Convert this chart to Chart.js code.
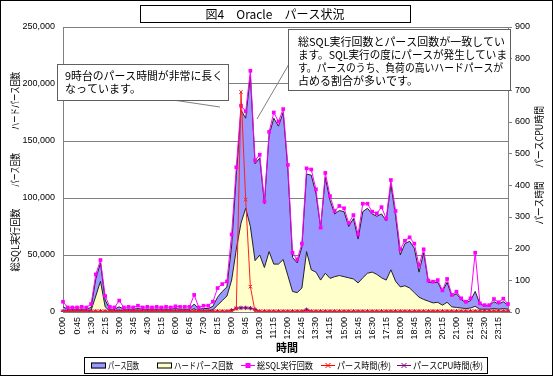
<!DOCTYPE html>
<html lang="ja">
<head>
<meta charset="utf-8">
<title>図4 Oracle パース状況</title>
<script src="https://cdn.jsdelivr.net/npm/chart.js@4.4.1/dist/chart.umd.min.js"></script>
<style>
  html, body { margin: 0; padding: 0; background: #fff; }
  #wrap { width: 553px; height: 376px; }
</style>
</head>
<body>
<div id="wrap"><canvas id="parseChart" width="553" height="376"></canvas></div>
<script>
// 15分刻みの時刻
const timeLabels = [
  '0:00','0:15','0:30','0:45','1:00','1:15','1:30','1:45','2:00','2:15','2:30','2:45',
  '3:00','3:15','3:30','3:45','4:00','4:15','4:30','4:45','5:00','5:15','5:30','5:45',
  '6:00','6:15','6:30','6:45','7:00','7:15','7:30','7:45','8:00','8:15','8:30','8:45',
  '9:00','9:15','9:30','9:45','10:00','10:15','10:30','10:45','11:00','11:15','11:30','11:45',
  '12:00','12:15','12:30','12:45','13:00','13:15','13:30','13:45','14:00','14:15','14:30','14:45',
  '15:00','15:15','15:30','15:45','16:00','16:15','16:30','16:45','17:00','17:15','17:30','17:45',
  '18:00','18:15','18:30','18:45','19:00','19:15','19:30','19:45','20:00','20:15','20:30','20:45',
  '21:00','21:15','21:30','21:45','22:00','22:15','22:30','22:45','23:00','23:15','23:30','23:45'
];

// 総SQL実行回数
const sqlExecCount = [
  9000, 4000, 4000, 4000, 4500, 4000, 7000, 33000, 45600, 14000, 4500, 4000,
  10000, 4000, 4500, 4000, 5500, 4000, 4500, 4000, 4500, 4000, 4500, 4000,
  5000, 4500, 4500, 4500, 15000, 4000, 5500, 5500, 9000, 21000, 24500, 26800,
  68000, 127000, 181000, 176000, 211600, 133000, 138000, 97000, 158000, 175000, 167000, 178000,
  129000, 52000, 46000, 60000, 126000, 125000, 107600, 74000, 122000, 101700, 88600, 93000,
  91000, 78000, 85000, 68000, 95000, 95000, 88000, 86500, 92000, 82000, 115800, 88600,
  55000, 62500, 65500, 60000, 41000, 55000, 27500, 26600, 28000, 19000, 29000, 15000,
  17800, 12000, 9000, 12000, 52000, 7600, 6000, 6000, 11400, 8500, 11700, 7000
];

// パース回数
const parseCount = [
  4500, 2500, 2500, 2500, 2500, 2500, 4000, 29000, 43000, 10500, 2500, 2500,
  4500, 2500, 2500, 2500, 3000, 2500, 2500, 2500, 2500, 2500, 2500, 2500,
  3000, 2500, 2500, 2500, 7000, 2500, 3000, 3000, 5000, 13000, 18000, 22000,
  58000, 120000, 177000, 170000, 207000, 130000, 135000, 95000, 155000, 170000, 163000, 175000,
  125000, 48000, 43000, 57000, 121000, 120000, 104000, 74000, 118000, 98000, 86000, 89000,
  88000, 75000, 82000, 64000, 88000, 91000, 86000, 84000, 86000, 80000, 112000, 84000,
  50000, 60000, 62000, 56000, 35000, 52000, 26000, 26000, 26000, 18000, 26000, 14000,
  16000, 11000, 8000, 10000, 18000, 7000, 5500, 5500, 9000, 7000, 9000, 6000
];

// ハードパース回数
const hardParseCount = [
  1000, 800, 800, 800, 800, 800, 1500, 14000, 27000, 4500, 800, 800,
  1500, 800, 800, 800, 800, 800, 800, 800, 800, 800, 800, 800,
  800, 800, 800, 800, 3000, 800, 800, 800, 2000, 6000, 10000, 14000,
  28000, 55000, 78000, 91000, 75000, 45000, 50000, 39000, 53000, 42000, 42000, 46000,
  32000, 18000, 17000, 21000, 53000, 37000, 35000, 28000, 34000, 29500, 31000, 32000,
  31000, 30000, 29000, 25500, 30000, 34000, 35000, 33000, 30000, 28000, 37000, 27000,
  22000, 23000, 21000, 17000, 13000, 11000, 9500, 8000, 8500, 6000, 8500, 4500,
  4000, 3500, 3000, 3500, 5000, 2500, 2500, 2500, 3000, 2500, 3000, 2500
];

// パース時間(秒)
const parseTimeSec = [
  2, 2, 2, 2, 2, 2, 2, 2, 2, 2, 2, 2,
  2, 2, 2, 2, 2, 2, 2, 2, 2, 2, 2, 2,
  2, 2, 2, 2, 2, 2, 2, 2, 2, 2, 2, 2,
  2, 10, 695, 355, 80, 2, 2, 2, 2, 2, 2, 2,
  2, 2, 2, 2, 2, 2, 2, 2, 2, 2, 2, 2,
  2, 2, 2, 2, 2, 2, 2, 2, 2, 2, 2, 2,
  2, 2, 2, 2, 2, 2, 2, 2, 2, 2, 2, 2,
  2, 2, 2, 2, 2, 2, 2, 2, 2, 2, 2, 2
];

// パースCPU時間(秒)
const parseCpuSec = [
  2, 2, 2, 2, 2, 2, 2, 2, 2, 2, 2, 2,
  2, 2, 2, 2, 2, 2, 2, 2, 2, 2, 2, 2,
  2, 2, 2, 2, 2, 2, 2, 2, 2, 2, 2, 2,
  5, 12, 13, 13, 12, 8, 2, 2, 2, 2, 2, 2,
  2, 2, 2, 2, 7, 2, 2, 2, 2, 2, 2, 2,
  2, 2, 2, 2, 2, 2, 2, 2, 2, 2, 2, 2,
  2, 2, 2, 2, 2, 2, 2, 2, 2, 2, 2, 2,
  2, 2, 2, 2, 2, 2, 2, 2, 2, 2, 2, 2
];

const countTicks = [0, 50000, 100000, 150000, 200000, 250000];
const secondTicks = [0, 100, 200, 300, 400, 500, 600, 700, 800, 900];

const JP = "'Noto Sans CJK JP', sans-serif";
const LATIN = "'Liberation Sans', Arial, sans-serif";

function rotatedText(ctx, text, x, y, maxW) {
  ctx.save();
  ctx.translate(x, y);
  ctx.rotate(-Math.PI / 2);
  ctx.textAlign = 'center';
  ctx.textBaseline = 'middle';
  ctx.fillText(text, 0, 0, maxW);
  ctx.restore();
}

function box(ctx, x, y, w, h, stroke) {
  ctx.fillStyle = '#fff';
  ctx.fillRect(x, y, w, h);
  ctx.strokeStyle = stroke;
  ctx.lineWidth = 1;
  ctx.strokeRect(x + 0.5, y + 0.5, w, h);
}

function line(ctx, x1, y1, x2, y2, color) {
  ctx.strokeStyle = color;
  ctx.lineWidth = 1;
  ctx.beginPath();
  ctx.moveTo(x1, y1);
  ctx.lineTo(x2, y2);
  ctx.stroke();
}

function cross(ctx, x, y, r, color) {
  line(ctx, x - r, y - r, x + r, y + r, color);
  line(ctx, x - r, y + r, x + r, y - r, color);
}

// タイトル・軸タイトル・凡例・吹き出し
const decorations = {
  id: 'decorations',
  beforeDraw(chart) {
    const ctx = chart.ctx;
    ctx.save();
    ctx.fillStyle = '#fff';
    ctx.fillRect(0, 0, chart.width, chart.height);
    ctx.restore();
  },
  afterDraw(chart) {
    const ctx = chart.ctx;
    ctx.save();

    // chart frame
    ctx.strokeStyle = '#000';
    ctx.lineWidth = 1;
    ctx.strokeRect(0.5, 0.5, chart.width - 1, chart.height - 1);

    // title
    box(ctx, 140, 5, 270, 17, '#000');
    ctx.fillStyle = '#000';
    ctx.font = '12px ' + JP;
    ctx.textAlign = 'center';
    ctx.textBaseline = 'middle';
    ctx.fillText('図4　Oracle　パース状況', 275, 14);

    // axis titles
    ctx.font = '10px ' + JP;
    rotatedText(ctx, 'ハードパース回数', 15, 101, 58);
    rotatedText(ctx, 'パース回数', 15, 170, 34);
    rotatedText(ctx, '総SQL実行回数', 15, 240, 63);
    rotatedText(ctx, 'パースCPU時間', 539, 137, 62);
    rotatedText(ctx, 'パース時間', 539, 203, 43);

    ctx.font = 'bold 11px ' + JP;
    ctx.textAlign = 'center';
    ctx.fillText('時間', 287, 348);

    // legend
    box(ctx, 84, 357, 403, 16, '#000');
    const ly = 365.5;
    ctx.font = '9px ' + JP;
    ctx.textAlign = 'left';
    ctx.textBaseline = 'middle';
    ctx.fillStyle = '#9999ff';
    ctx.fillRect(91, ly - 3, 15, 6);
    ctx.strokeStyle = '#000';
    ctx.strokeRect(91.5, ly - 2.5, 14, 5);
    ctx.fillStyle = '#ffffcc';
    ctx.fillRect(157, ly - 3, 15, 6);
    ctx.strokeRect(157.5, ly - 2.5, 14, 5);
    line(ctx, 241, ly, 255, ly, '#ff00ff');
    ctx.fillStyle = '#ff00ff';
    ctx.fillRect(245.5, ly - 2.5, 5, 5);
    line(ctx, 321, ly, 335, ly, '#ff0000');
    cross(ctx, 328, ly, 2.5, '#ff0000');
    line(ctx, 397, ly, 411, ly, '#800080');
    cross(ctx, 404, ly, 2.5, '#800080');
    ctx.fillStyle = '#000';
    ctx.fillText('パース回数', 108, ly, 31);
    ctx.fillText('ハードパース回数', 174, ly, 59);
    ctx.fillText('総SQL実行回数', 257, ly, 56);
    ctx.fillText('パース時間(秒)', 337, ly, 54);
    ctx.fillText('パースCPU時間(秒)', 413, ly, 70);

    // callout 1
    line(ctx, 173, 100, 220, 107, '#808080');
    box(ctx, 57, 64, 171, 36, '#606060');
    ctx.fillStyle = '#000';
    ctx.font = '11px ' + JP;
    ctx.textAlign = 'left';
    ctx.fillText('9時台のパース時間が非常に長く', 65, 76, 158);
    ctx.fillText('なっています。', 65, 89);

    // callout 2
    line(ctx, 289, 64, 257, 119, '#808080');
    box(ctx, 288, 29, 222, 61, '#606060');
    ctx.fillStyle = '#000';
    ctx.fillText('総SQL実行回数とパース回数が一致してい', 298, 42, 207);
    ctx.fillText('ます。SQL実行の度にパースが発生していま', 298, 55, 209);
    ctx.fillText('す。パースのうち、負荷の高いハードパースが', 298, 68, 205);
    ctx.fillText('占める割合が多いです。', 298, 81);

    ctx.restore();
  }
};

Chart.defaults.font.family = LATIN;
Chart.defaults.color = '#000';

const ctx = document.getElementById('parseChart').getContext('2d');
new Chart(ctx, {
  type: 'line',
  data: {
    labels: timeLabels,
    datasets: [
      {
        label: 'パース回数',
        data: parseCount,
        yAxisID: 'y',
        backgroundColor: '#9999ff',
        borderColor: '#222',
        borderWidth: 1,
        fill: 'origin',
        pointRadius: 0,
        order: 5
      },
      {
        label: 'ハードパース回数',
        data: hardParseCount,
        yAxisID: 'y',
        backgroundColor: '#ffffcc',
        borderColor: '#222',
        borderWidth: 1,
        fill: 'origin',
        pointRadius: 0,
        order: 4
      },
      {
        label: '総SQL実行回数',
        data: sqlExecCount,
        yAxisID: 'y',
        borderColor: '#ff00ff',
        backgroundColor: '#ff00ff',
        borderWidth: 1,
        pointStyle: 'rect',
        pointRadius: 2.6,
        pointBorderWidth: 0,
        fill: false,
        order: 3
      },
      {
        label: 'パース時間(秒)',
        data: parseTimeSec,
        yAxisID: 'y1',
        borderColor: '#ff2020',
        backgroundColor: '#ff2020',
        borderWidth: 1,
        pointStyle: 'crossRot',
        pointRadius: 2.5,
        pointBorderWidth: 1,
        fill: false,
        order: 1
      },
      {
        label: 'パースCPU時間(秒)',
        data: parseCpuSec,
        yAxisID: 'y1',
        borderColor: '#800080',
        backgroundColor: '#800080',
        borderWidth: 1,
        pointStyle: 'star',
        pointRadius: 2.2,
        pointBorderWidth: 1,
        fill: false,
        order: 2
      }
    ]
  },
  options: {
    responsive: false,
    animation: false,
    devicePixelRatio: 1,
    layout: { padding: { top: 27, left: 0, right: 0, bottom: 0 } },
    elements: { line: { tension: 0 } },
    plugins: {
      legend: { display: false },
      tooltip: { enabled: false },
      title: { display: false }
    },
    scales: {
      x: {
        type: 'category',
        offset: false,
        grid: { display: false, drawTicks: false },
        border: { color: '#808080' },
        ticks: {
          autoSkip: false,
          maxRotation: 90,
          minRotation: 90,
          padding: 5,
          font: { size: 9 },
          callback: (v, i) => (i % 3 === 0 ? timeLabels[i] : '')
        },
        afterFit: s => { s.height = 64; }
      },
      y: {
        position: 'left',
        min: 0,
        max: 250000,
        afterBuildTicks: s => { s.ticks = countTicks.map(v => ({ value: v })); },
        grid: { color: '#808080', drawTicks: false },
        border: { color: '#808080' },
        ticks: {
          padding: 8,
          font: { size: 9 },
          callback: v => v.toLocaleString('en-US')
        },
        afterFit: s => { s.width = 63; }
      },
      y1: {
        position: 'right',
        min: 0,
        max: 900,
        afterBuildTicks: s => { s.ticks = secondTicks.map(v => ({ value: v })); },
        grid: { drawOnChartArea: false, color: '#808080', tickLength: 4 },
        border: { color: '#808080' },
        ticks: { padding: 3, font: { size: 9 } },
        afterFit: s => { s.width = 45; }
      }
    }
  },
  plugins: [decorations]
});
</script>
</body>
</html>
